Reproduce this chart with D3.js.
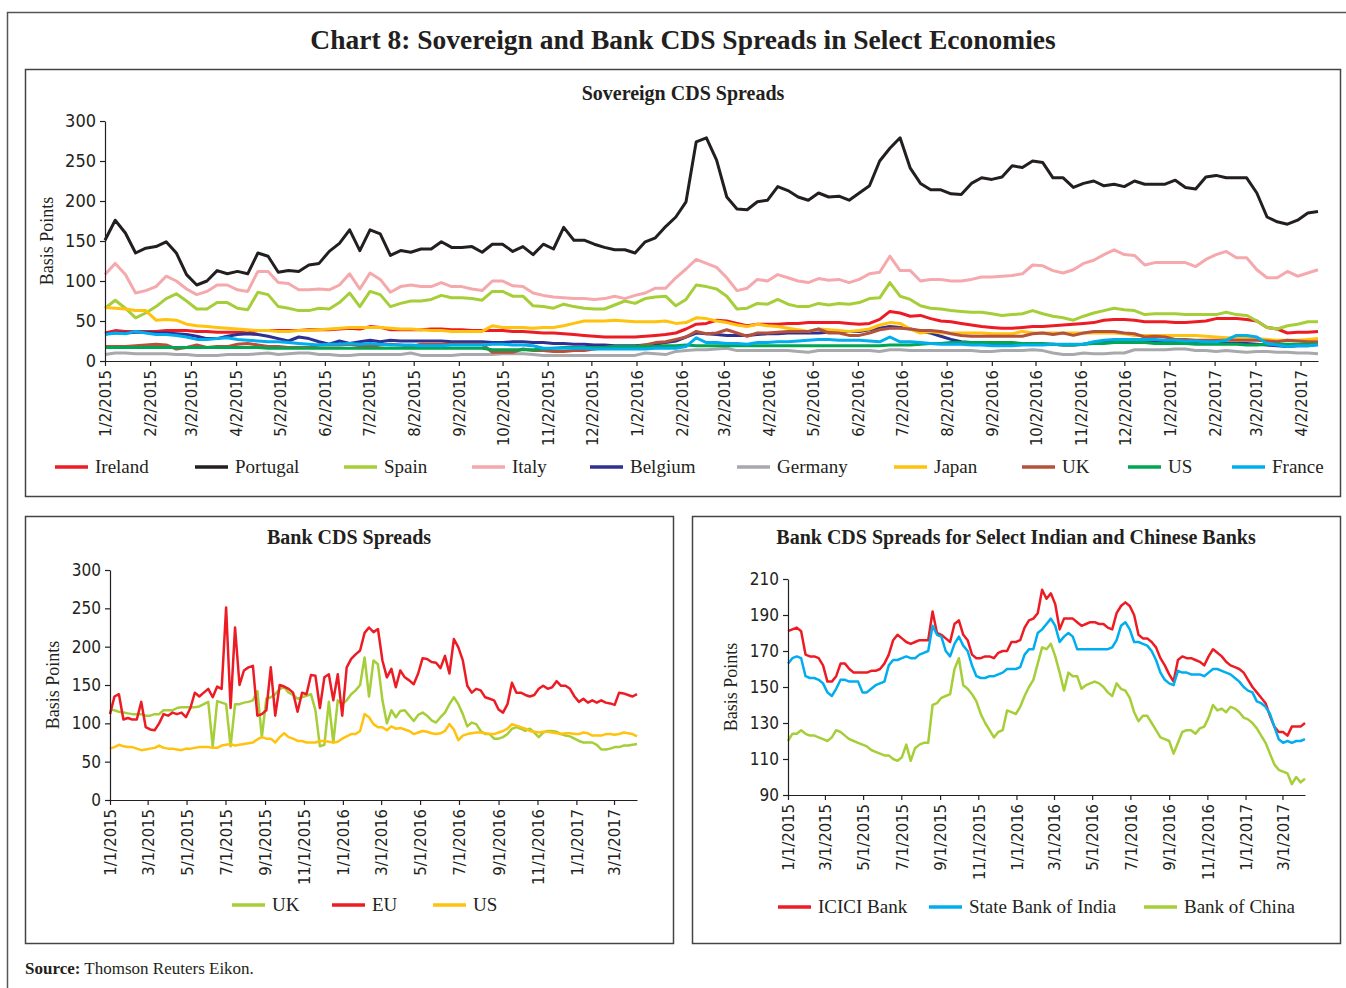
<!DOCTYPE html>
<html>
<head>
  <meta charset="utf-8">
  <script src="https://d3js.org/d3.v7.min.js"></script>
  <title>Chart 8: Sovereign and Bank CDS Spreads</title>
  <style>
    body { margin: 0; background: #fff; }
    svg { display: block; }
    .axis path, .axis line { stroke: #231f20; stroke-width: 1.2; }
    .axis text { fill: #231f20; }
  </style>
</head>
<body>
<svg width="1346" height="988"></svg>
<script>
// ---- sovereign CDS, weekly from 1/2/2015 ----
var sovStart = "1/2/2015";
var sovTicks = ["1/2/2015","2/2/2015","3/2/2015","4/2/2015","5/2/2015","6/2/2015","7/2/2015",
  "8/2/2015","9/2/2015","10/2/2015","11/2/2015","12/2/2015","1/2/2016","2/2/2016","3/2/2016",
  "4/2/2016","5/2/2016","6/2/2016","7/2/2016","8/2/2016","9/2/2016","10/2/2016","11/2/2016",
  "12/2/2016","1/2/2017","2/2/2017","3/2/2017","4/2/2017"];
var sovYTicks = [0, 50, 100, 150, 200, 250, 300];

var ireland = [35,38,37,37,37,37,38,38,38,37, 37,36,36,36,35,38,38,38,38,38, 39,39,39,40,41,40,43,42,39,39,
  39,39,40,40,39,39,38,38,38,38, 37,37,36,35,35,34,33,32,31,30, 30,30,30,31,32,33,35,40,
  46,47,51,50,47,44,46,46,46,47, 47,48,48,48,48,47,46,47,52,62, 60,56,57,53,50,49,47,45,43,42,
  41,41,42,43,43,44,45,46,47,48, 51,52,52,51,49,49,49,48,48,49, 50,53,53,53,52,50,42,40,35,36, 36,37];
var portugal = [151,176,160,135,141,143,149,135,108,95, 100,113,109,112,109,135,131,111,113,112,
  120,122,137,147,164,138,164,159,132,138, 136,140,140,149,142,142,143,136,146,146,
  137,143,133,146,140,167,151,151,146,142, 139,139,135,149,154,168,180,199,
  274,279,251,205,190,189,199,201,218,213, 205,201,210,205,206,201,210,219,250,266,
  279,241,222,214,214,209,208,222,229,227, 230,244,242,250,248,229,229,217,222,225,
  219,221,218,225,221,221,221,226,217,215, 230,232,229,229,229,210,180,174,171,176, 185,187];
var spain = [66,76,66,54,60,68,78,84,75,65, 65,73,73,66,64,86,83,68,66,63, 63,66,65,73,85,68,87,83,68,72,
  75,75,77,82,79,79,78,76,87,87, 81,81,69,68,66,71,68,66,65,65, 70,75,72,78,80,81,69,77,
  95,93,90,81,65,66,72,71,77,71, 68,68,72,70,72,71,73,78,79,98, 81,77,69,66,65,63,62,61,61,59,
  57,58,59,63,59,56,54,51,56,60, 63,66,64,63,58,59,59,59,58,58, 58,58,61,58,57,50,42,40,44,46, 49,49];
var italy = [108,122,108,85,88,93,106,100,90,83, 87,95,95,89,87,112,112,98,97,89,
  89,90,89,95,109,90,110,102,86,93, 95,93,93,98,93,93,90,88,100,100,
  94,93,85,82,80,79,78,78,77,78, 81,78,82,85,91,91,104,115,
  127,122,117,104,88,91,102,100,108,104, 100,98,103,101,102,98,102,109,111,131,
  113,113,100,102,102,100,100,102,105,105, 106,107,109,120,119,113,110,114,122,126,
  133,139,133,132,120,123,123,123,123,118, 127,133,137,129,129,114,104,104,112,106, 110,114];
var belgium = [34,35,35,36,36,35,35,34,33,31, 28,28,31,33,34,33,31,28,25,30, 28,24,21,25,22,24,26,24,26,25,
  25,25,25,25,24,24,24,24,23,23, 24,24,23,23,22,22,21,21,20,20, 19,19,19,20,21,23,25,30,
  35,34,33,32,32,32,33,34,34,35, 35,35,35,36,37,37,37,39,41,43, 42,40,37,35,31,27,24,23,22,22,
  21,21,22,21,21,21,20,20,21,23, 24,24,24,24,24,24,24,24,24,24, 23,22,22,22,22,21,20,19,18,19, 19,21];
var germany = [8,10,10,9,9,9,9,8,8,7, 7,7,8,8,8,9,10,8,9,10, 10,8,8,7,7,8,8,8,8,8,
  10,7,7,7,7,8,8,8,8,9, 9,9,8,7,7,7,7,7,7,7, 7,7,7,10,9,8,12,13,
  14,14,15,16,13,13,13,13,13,13, 12,11,13,13,13,13,13,13,12,14, 14,13,13,13,13,13,13,13,12,12,
  13,13,13,14,13,10,8,8,10,9, 9,10,10,14,14,14,14,15,15,13, 13,12,13,12,11,12,12,11,11,10, 10,9];
var japan = [67,66,65,63,63,51,52,51,46,44, 43,42,41,40,39,38,38,37,37,38, 38,39,40,41,42,42,42,42,41,40,
  40,39,38,38,37,37,37,37,44,42, 42,42,41,42,42,44,47,50,50,50, 51,50,49,49,49,50,47,48,
  54,53,50,48,45,43,46,44,43,41, 39,37,40,39,38,37,38,40,45,48, 47,40,35,37,35,35,35,35,35,34,
  34,34,37,35,35,35,35,35,35,35, 35,35,34,32,32,32,32,32,32,32, 31,30,29,29,29,28,27,26,26,26, 27,28];
var ukSov = [18,18,18,19,20,21,20,15,17,20, 17,18,18,21,22,20,18,18,17,17, 17,20,20,20,21,19,18,20,21,20,
  18,21,21,21,21,21,21,21,11,11, 11,15,13,13,12,12,13,13,15,17, 18,18,18,20,23,24,27,30,
  37,34,35,39,35,31,35,35,36,37, 37,37,40,35,35,32,32,35,39,41, 41,40,38,38,37,34,32,31,31,31,
  31,31,31,34,35,33,35,32,35,37, 37,37,35,34,30,31,30,27,27,26, 26,26,26,26,26,26,25,24,26,25, 24,24];
var usSov = [17,17,17,17,17,17,17,17,17,17, 17,17,17,17,17,17,16,16,16,16, 16,16,16,16,16,16,16,16,16,16,
  16,16,16,16,16,16,16,16,14,14, 14,14,14,15,16,17,17,17,17,17, 18,18,18,18,18,19,19,20,
  19,19,19,19,19,19,19,19,19,19, 19,19,19,19,19,19,19,19,19,20, 20,20,21,22,22,23,23,23,23,23,
  23,23,22,22,22,21,20,20,21,22, 22,23,23,23,23,22,22,22,22,21, 21,21,21,21,20,20,21,21,21,21, 21,21];
var france = [33,35,34,37,35,33,33,32,30,27, 27,28,29,27,26,25,24,24,23,22, 21,20,21,21,22,21,22,21,20,20,
  20,19,19,19,20,20,20,20,21,21, 20,20,19,16,16,16,16,16,15,15, 15,15,15,15,16,16,16,18,
  29,23,23,22,22,21,23,23,24,24, 25,26,27,27,26,26,26,25,24,30, 24,24,23,22,21,21,21,20,20,19,
  19,19,20,20,20,21,21,21,21,24, 26,27,27,27,27,27,26,26,25,25, 24,24,26,32,32,30,22,20,18,19, 19,20];

// ---- bank CDS, weekly from 1/1/2015 ----
var bankStart = "1/1/2015";
var bankTicks = ["1/1/2015","3/1/2015","5/1/2015","7/1/2015","9/1/2015","11/1/2015","1/1/2016",
  "3/1/2016","5/1/2016","7/1/2016","9/1/2016","11/1/2016","1/1/2017","3/1/2017"];
var bankYTicks = [0, 50, 100, 150, 200, 250, 300];
var asiaYTicks = [90, 110, 130, 150, 170, 190, 210];

var bankUK = [118,117,115,114,113,112,112,112,110,110, 112,112,117,117,117,120,121,121,121,121,
  122,125,128,70,129,127,125,70,125,125, 127,128,130,142,82,132,134,138,145,147,
  140,137,132,134,136,138,117,70,72,128, 75,130,125,130,138,143,150,186,135,182,
  177,130,100,117,108,116,117,110,103,111, 114,110,104,101,108,114,125,134,125,112,
  96,101,99,90,86,86,80,80,82,86, 93,95,93,90,93,88,82,88,90,90,
  89,86,84,83,80,77,75,75,75,72, 66,66,67,69,69,71,71,72,73];
var bankEU = [112,135,138,105,107,105,105,128,95,92, 91,100,112,110,114,112,114,108,120,140,
  135,140,145,134,148,145,251,120,225,150, 169,173,175,110,112,117,173,110,150,148,
  145,140,115,140,138,163,162,120,160,164, 130,164,110,173,184,190,195,218,225,219,
  223,182,160,171,147,169,160,156,151,165, 185,184,180,179,172,188,165,210,199,182,
  149,140,145,143,134,132,130,118,114,125, 153,140,140,137,135,137,145,149,145,147,
  155,149,149,145,135,128,132,127,130,127, 130,127,126,124,140,139,137,135,138];
var bankUS = [67,69,72,70,69,69,67,65,66,67, 68,71,68,67,67,66,65,67,67,68,
  69,69,69,68,68,71,72,73,71,72, 73,74,75,79,82,80,80,75,82,87,
  82,80,77,77,75,75,75,77,77,76, 75,76,80,83,86,86,90,112,108,99,
  95,95,91,96,93,94,92,90,86,88, 90,89,87,86,87,90,99,92,78,84,
  86,87,88,88,87,86,86,88,90,93, 99,97,95,93,90,89,88,89,89,88,
  87,86,87,87,86,86,88,87,84,84, 84,86,86,85,86,88,87,86,83];

var icici = [181,182,183,181,168,167,167,166,162,153, 153,156,163,163,160,158,158,158,158,159,
  159,160,163,168,176,179,177,175,174,175, 176,176,176,192,180,179,177,175,185,187,
  179,176,168,166,166,167,167,166,169,170, 170,175,175,176,183,187,188,191,204,199,
  202,196,182,188,188,188,186,184,185,186, 186,185,185,183,182,191,195,197,195,190,
  179,177,177,175,172,166,162,157,153,165, 167,166,166,165,164,162,167,171,169,167,
  164,162,161,160,158,154,150,147,144,141, 134,128,125,125,123,128,128,128,130];
var sbi = [163,166,167,166,156,155,155,154,152,147, 145,149,154,154,153,153,153,147,147,149,
  151,152,153,162,165,165,166,167,166,166, 168,169,170,184,179,178,170,167,174,178,
  173,170,162,156,155,155,156,156,157,158, 160,160,160,161,168,171,171,180,182,185,
  188,184,175,178,180,178,171,171,171,171, 171,171,171,171,172,176,184,186,182,175,
  175,174,173,170,165,158,154,152,151,159, 158,158,157,157,157,156,158,160,160,159,
  158,157,155,153,150,148,147,142,141,139, 135,128,121,119,120,119,120,120,121];
var boc = [120,124,124,126,124,123,123,122,121,120, 122,126,125,123,121,120,119,118,117,115,
  114,113,112,112,110,109,111,118,109,116, 118,119,119,140,141,144,145,146,160,166,
  151,149,146,142,135,130,126,122,125,126, 137,136,135,139,145,150,154,163,172,171,
  174,167,158,148,158,156,156,149,151,152, 153,152,150,147,145,152,149,148,144,136,
  131,134,134,130,126,122,121,120,113,119, 125,126,126,124,127,128,133,140,137,138,
  136,139,138,136,133,132,130,127,123,119, 113,107,104,103,102,96,100,97,99];

// ---- drawing ----
var svg = d3.select("svg");
var SERIF = '"Liberation Serif", "DejaVu Serif", serif';
var SANS = '"Liberation Sans Narrow", "DejaVu Sans Condensed", Roboto, sans-serif';
var parseDate = d3.timeParse("%m/%d/%Y");

// outer frame and panel boxes
svg.append("rect").attr("x", 7.5).attr("y", 12.5).attr("width", 1360).attr("height", 1000)
  .attr("fill", "none").attr("stroke", "#555").attr("stroke-width", 1.5);
[[25, 69, 1315, 427], [25, 516, 648, 427], [692, 516, 648, 427]].forEach(function(b) {
  svg.append("rect").attr("x", b[0] + 0.5).attr("y", b[1] + 0.5).attr("width", b[2]).attr("height", b[3])
    .attr("fill", "none").attr("stroke", "#444").attr("stroke-width", 1.5);
});

svg.append("text").attr("x", 683).attr("y", 49).attr("text-anchor", "middle")
  .style("font-family", SERIF).style("font-size", "27.5px").style("font-weight", "bold").attr("fill", "#231f20")
  .text("Chart 8: Sovereign and Bank CDS Spreads in Select Economies");

var src = svg.append("text").attr("x", 25).attr("y", 974)
  .style("font-family", SERIF).style("font-size", "17px").attr("fill", "#231f20");
src.append("tspan").style("font-weight", "bold").text("Source:");
src.append("tspan").text(" Thomson Reuters Eikon.");

function drawPanel(p) {
  var start = parseDate(p.start);
  var n = p.series[0].values.length;
  var end = d3.timeDay.offset(start, 7 * (n - 1));
  var x = d3.scaleTime().domain([start, end]).range([p.left, p.right]);
  var y = d3.scaleLinear().domain(p.yDomain).range([p.bottom, p.top]);
  var g = svg.append("g");

  // title
  g.append("text").attr("x", p.titleX).attr("y", p.titleY).attr("text-anchor", "middle")
    .style("font-family", SERIF).style("font-size", "20px").style("font-weight", "bold").attr("fill", "#231f20")
    .text(p.title);

  // lines
  var line = d3.line()
    .x(function(d, i) { return x(d3.timeDay.offset(start, 7 * i)); })
    .y(function(d) { return y(d); });
  p.series.forEach(function(s) {
    g.append("path").datum(s.values)
      .attr("fill", "none").attr("stroke", s.color).attr("stroke-width", p.lineWidth)
      .attr("stroke-linejoin", "round").attr("d", line);
  });

  // y axis
  var ya = g.append("g").attr("class", "axis").attr("transform", "translate(" + p.left + ",0)")
    .call(d3.axisLeft(y).tickValues(p.yTicks).tickSize(5).tickSizeOuter(0).tickPadding(4));
  ya.selectAll("text").style("font-family", SANS).style("font-size", p.yFont + "px");

  // x axis
  var xa = g.append("g").attr("class", "axis").attr("transform", "translate(0," + p.bottom + ")")
    .call(d3.axisBottom(x).tickValues(p.xTicks.map(parseDate))
      .tickFormat(function(d, i) { return p.xTicks[i]; }).tickSize(5).tickSizeOuter(0));
  xa.selectAll("text")
    .style("font-family", SANS).style("font-size", p.xFont + "px")
    .attr("transform", "rotate(-90)").attr("x", -9).attr("y", 0).attr("dy", "0.35em")
    .style("text-anchor", "end");

  // y title
  g.append("text").attr("transform", "translate(" + p.yTitleX + "," + p.yTitleY + ") rotate(-90)")
    .attr("text-anchor", "middle").style("font-family", SERIF).style("font-size", "18px")
    .attr("fill", "#231f20").text("Basis Points");

  // legend
  p.series.forEach(function(s, i) {
    var lx = p.legendX[i];
    g.append("line").attr("x1", lx).attr("x2", lx + 33).attr("y1", p.legendY).attr("y2", p.legendY)
      .attr("stroke", s.color).attr("stroke-width", 3.5);
    g.append("text").attr("x", lx + 40).attr("y", p.legendY).attr("dy", "0.33em")
      .style("font-family", SERIF).style("font-size", "19px").attr("fill", "#231f20").text(s.name);
  });
}

drawPanel({
  title: "Sovereign CDS Spreads", titleX: 683, titleY: 100,
  start: sovStart, xTicks: sovTicks, yTicks: sovYTicks, yDomain: [0, 300],
  left: 105, right: 1318, top: 121, bottom: 361, lineWidth: 3,
  yFont: 18, xFont: 16.5, yTitleX: 53, yTitleY: 241,
  legendY: 467, legendX: [55, 195, 344, 472, 590, 737, 894, 1022, 1128, 1232],
  series: [
    { name: "Ireland", values: ireland, color: "#ed1c24" },
    { name: "Portugal", values: portugal, color: "#231f20" },
    { name: "Spain", values: spain, color: "#a6ce39" },
    { name: "Italy", values: italy, color: "#f5a9ac" },
    { name: "Belgium", values: belgium, color: "#2e3192" },
    { name: "Germany", values: germany, color: "#a7a9ac" },
    { name: "Japan", values: japan, color: "#ffc20e" },
    { name: "UK", values: ukSov, color: "#b5523b" },
    { name: "US", values: usSov, color: "#00a651" },
    { name: "France", values: france, color: "#00aeef" }
  ]
});

drawPanel({
  title: "Bank CDS Spreads", titleX: 349, titleY: 544,
  start: bankStart, xTicks: bankTicks, yTicks: bankYTicks, yDomain: [0, 300],
  left: 110, right: 637, top: 570, bottom: 800, lineWidth: 2.5,
  yFont: 17, xFont: 16.5, yTitleX: 59, yTitleY: 685,
  legendY: 905, legendX: [232, 332, 433],
  series: [
    { name: "UK", values: bankUK, color: "#a6ce39" },
    { name: "EU", values: bankEU, color: "#ed1c24" },
    { name: "US", values: bankUS, color: "#ffc20e" }
  ]
});

drawPanel({
  title: "Bank CDS Spreads for Select Indian and Chinese Banks", titleX: 1016, titleY: 544,
  start: bankStart, xTicks: bankTicks, yTicks: asiaYTicks, yDomain: [90, 210],
  left: 788, right: 1305, top: 579, bottom: 795, lineWidth: 2.5,
  yFont: 17, xFont: 16.5, yTitleX: 737, yTitleY: 687,
  legendY: 907, legendX: [778, 929, 1144],
  series: [
    { name: "ICICI Bank", values: icici, color: "#ed1c24" },
    { name: "State Bank of India", values: sbi, color: "#00aeef" },
    { name: "Bank of China", values: boc, color: "#a6ce39" }
  ]
});
</script>
</body>
</html>
